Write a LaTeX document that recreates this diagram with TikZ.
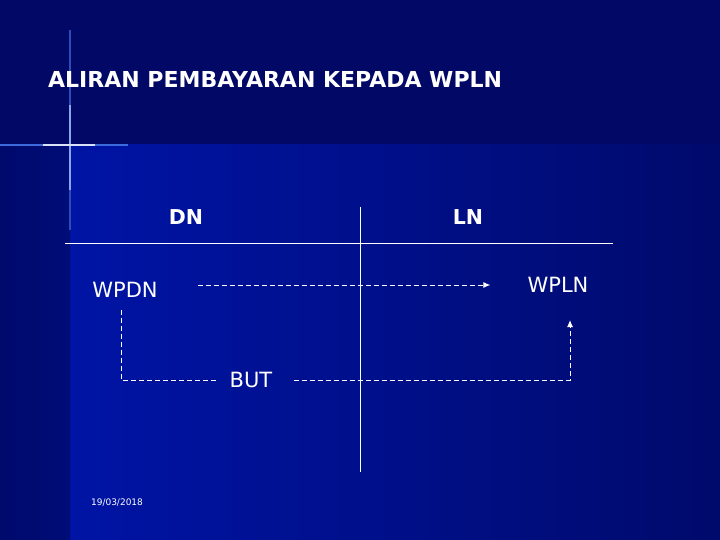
\documentclass[tikz,border=0pt]{standalone}
\usepackage{fontspec}
\setmainfont{DejaVu Sans}
\usetikzlibrary{arrows.meta}
\definecolor{navytop}{RGB}{2,8,102}
\definecolor{bluemain}{RGB}{0,20,165}
\definecolor{bluedark}{RGB}{0,10,108}
\definecolor{crossblue}{RGB}{60,105,220}
\tikzset{
    label/.style={text=white, font=\fontsize{21}{24}\selectfont, inner sep=3pt},
    head/.style={text=white, font=\bfseries\fontsize{20.5}{24}\selectfont, inner sep=3pt},
    flow/.style={white, line width=1pt, dash pattern=on 5pt off 3pt, -{Latex[length=7pt,width=6pt]}},
    rule/.style={white, line width=0.8pt}
}
\begin{document}
\begin{tikzpicture}[x=1pt, y=-1pt]
    \useasboundingbox (0,0) rectangle (720,540);
    \fill[navytop] (0,0) rectangle (720,145);
    \shade[left color=bluemain, right color=bluedark] (70,145) rectangle (720,540);
    \shade[left color=bluedark, right color=bluedark!80!bluemain] (0,145) rectangle (70,540);
    \draw[crossblue!70!navytop, line width=1.5pt] (70,30) -- (70,230);
    \draw[crossblue!60!white, line width=1.2pt] (70,105) -- (70,190);
    \draw[crossblue, line width=2pt] (0,145) -- (128,145);
    \draw[white!80!crossblue, line width=1.6pt] (43,145) -- (95,145);
    \node[head, anchor=base west, inner sep=0pt, font=\bfseries\fontsize{22}{24}\selectfont] (title) at (48,88) {ALIRAN PEMBAYARAN KEPADA WPLN};
    \node[head] (dn) at (186,217) {DN};
    \node[head] (ln) at (468,217) {LN};
    \draw[rule] (65,243) -- (613,243);
    \draw[rule] (360,207) -- (360,472);
    \node[label] (wpdn) at (125,290) {WPDN};
    \node[label] (wpln) at (558,285) {WPLN};
    \node[label, inner xsep=14pt] (but) at (251,380) {BUT};
    \node[text=white, font=\fontsize{9}{10}\selectfont] (date) at (117,503) {19/03/2018};
    \coordinate (payin) at (570,320);
    \draw[flow] ([xshift=37pt,yshift=5pt]wpdn.east) -- ([xshift=-34pt]wpln.west);
    \draw[flow, -] ([xshift=-4pt,yshift=-9pt]wpdn.south) |- (but.west);
    \draw[flow] ([xshift=7pt]but.east) -| (payin);
\end{tikzpicture}
\end{document}
